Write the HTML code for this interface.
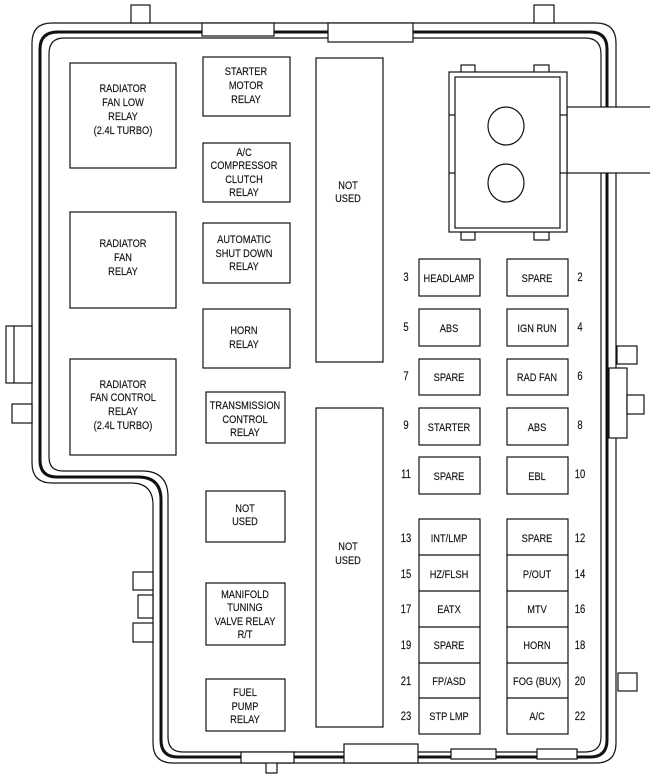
<!DOCTYPE html>
<html><head><meta charset="utf-8"><style>
html,body{margin:0;padding:0;background:#fff;}
svg{display:block;}
text{font-family:"Liberation Sans",Arial,sans-serif;font-size:11.3px;fill:#111;text-anchor:middle;transform-box:fill-box;transform-origin:center;transform:scaleX(0.82);stroke:#111;stroke-width:0.15;}
.n text{font-size:11.5px;}
</style></head><body>
<svg width="650" height="776" viewBox="0 0 650 776" xmlns="http://www.w3.org/2000/svg">
<g fill="none" stroke="#111">
<path d="M52,23 H596 Q616,23 616,43 V743 Q616,763 596,763 H173 Q153,763 153,743 V505 Q153,483 131,483 H52 Q32,483 32,463 V43 Q32,23 52,23 Z" stroke-width="1.2"/>
<path d="M58,32 H590 Q607,32 607,49 V740 Q607,757 590,757 H178 Q161,757 161,740 V500 Q161,477 138,477 H57 Q40,477 40,460 V49 Q40,32 58,32 Z" stroke-width="3"/>
<path d="M64,38 H585 Q601,38 601,54 V737 Q601,752 585,752 H183 Q168,752 168,737 V497 Q168,471 142,471 H63 Q49,471 49,457 V54 Q49,38 64,38 Z" stroke-width="1.2"/>
</g>
<g fill="#fff" stroke="#111" stroke-width="1.2">
<rect x="131" y="5" width="19" height="18"/>
<rect x="534" y="5" width="20" height="18"/>
<rect x="202" y="23" width="72" height="13"/>
<rect x="328" y="23" width="85" height="19"/>
<rect x="6" y="326" width="26" height="57"/>
<line x1="14" y1="326" x2="14" y2="383"/>
<rect x="12" y="404" width="20" height="19"/>
<rect x="133" y="572" width="20" height="18"/>
<rect x="138" y="595" width="15" height="23"/>
<rect x="133" y="623" width="20" height="19"/>
<rect x="617" y="346" width="20" height="18"/>
<rect x="609" y="368" width="18" height="70"/>
<rect x="627" y="395" width="17" height="19"/>
<rect x="618" y="673" width="19" height="18"/>
<rect x="266" y="762" width="11" height="11"/>
<rect x="241" y="752" width="53" height="11"/>
<rect x="344" y="744" width="74" height="19"/>
<rect x="451" y="749" width="45" height="10"/>
<rect x="537" y="749" width="40" height="10"/>
<rect x="567" y="107" width="90" height="66"/>
<rect x="461" y="65" width="14" height="8"/>
<rect x="534" y="65" width="15" height="8"/>
<rect x="461" y="232" width="14" height="8"/>
<rect x="534" y="232" width="15" height="8"/>
<rect x="449" y="72" width="118" height="160"/>
<rect x="455" y="77" width="105" height="151"/>
<line x1="449" y1="115" x2="455" y2="115"/><line x1="449" y1="173" x2="455" y2="173"/>
<line x1="560" y1="115" x2="567" y2="115"/><line x1="560" y1="173" x2="567" y2="173"/>
<ellipse cx="506" cy="126" rx="18" ry="19"/>
<ellipse cx="506" cy="183" rx="18" ry="19"/>
<rect x="70" y="63" width="106" height="105"/>
<rect x="203" y="57" width="87" height="59"/>
<rect x="203" y="143" width="87" height="59"/>
<rect x="203" y="223" width="87" height="60"/>
<rect x="70" y="212" width="106" height="96"/>
<rect x="203" y="309" width="87" height="59"/>
<rect x="70" y="359" width="106" height="96"/>
<rect x="206" y="392" width="79" height="51"/>
<rect x="206" y="491" width="79" height="51"/>
<rect x="206" y="583" width="79" height="62"/>
<rect x="206" y="679" width="79" height="52"/>
<rect x="316" y="58" width="67" height="304"/>
<rect x="316" y="408" width="67" height="319"/>
<rect x="419" y="259" width="61" height="37"/><rect x="507" y="259" width="61" height="37"/>
<rect x="419" y="309" width="61" height="37"/><rect x="507" y="309" width="61" height="37"/>
<rect x="419" y="359" width="61" height="36"/><rect x="507" y="359" width="61" height="36"/>
<rect x="419" y="408" width="61" height="37"/><rect x="507" y="408" width="61" height="37"/>
<rect x="419" y="457" width="61" height="37"/><rect x="507" y="457" width="61" height="37"/>
<rect x="419" y="519" width="61" height="215"/><rect x="507" y="519" width="61" height="215"/>
<path d="M419,555H480M419,591H480M419,627H480M419,663H480M419,698H480M507,555H568M507,591H568M507,627H568M507,663H568M507,698H568"/>
</g>
<g>
<text x="123" y="92">RADIATOR</text><text x="123" y="106">FAN LOW</text><text x="123" y="120">RELAY</text><text x="123" y="134">(2.4L TURBO)</text>
<text x="246" y="75">STARTER</text><text x="246" y="89">MOTOR</text><text x="246" y="103">RELAY</text>
<text x="244" y="156">A/C</text><text x="244" y="169">COMPRESSOR</text><text x="244" y="183">CLUTCH</text><text x="244" y="196">RELAY</text>
<text x="244" y="243">AUTOMATIC</text><text x="244" y="257">SHUT DOWN</text><text x="244" y="270">RELAY</text>
<text x="123" y="247">RADIATOR</text><text x="123" y="261">FAN</text><text x="123" y="275">RELAY</text>
<text x="244" y="334">HORN</text><text x="244" y="348">RELAY</text>
<text x="123" y="388">RADIATOR</text><text x="123" y="401">FAN CONTROL</text><text x="123" y="415">RELAY</text><text x="123" y="429">(2.4L TURBO)</text>
<text x="245" y="409">TRANSMISSION</text><text x="245" y="423">CONTROL</text><text x="245" y="436">RELAY</text>
<text x="245" y="512">NOT</text><text x="245" y="525">USED</text>
<text x="245" y="598">MANIFOLD</text><text x="245" y="611">TUNING</text><text x="245" y="625">VALVE RELAY</text><text x="245" y="638">R/T</text>
<text x="245" y="696">FUEL</text><text x="245" y="710">PUMP</text><text x="245" y="723">RELAY</text>
<text x="348" y="189">NOT</text><text x="348" y="202">USED</text>
<text x="348" y="550">NOT</text><text x="348" y="564">USED</text>
<text x="449" y="282">HEADLAMP</text><text x="537" y="282">SPARE</text>
<text x="449" y="332">ABS</text><text x="537" y="332">IGN RUN</text>
<text x="449" y="381">SPARE</text><text x="537" y="381">RAD FAN</text>
<text x="449" y="431">STARTER</text><text x="537" y="431">ABS</text>
<text x="449" y="480">SPARE</text><text x="537" y="480">EBL</text>
<text x="449" y="542">INT/LMP</text><text x="537" y="542">SPARE</text>
<text x="449" y="578">HZ/FLSH</text><text x="537" y="578">P/OUT</text>
<text x="449" y="613">EATX</text><text x="537" y="613">MTV</text>
<text x="449" y="649">SPARE</text><text x="537" y="649">HORN</text>
<text x="449" y="685">FP/ASD</text><text x="537" y="685">FOG (BUX)</text>
<text x="449" y="720">STP LMP</text><text x="537" y="720">A/C</text>
<g class="n">
<text x="406" y="281">3</text><text x="580" y="281">2</text>
<text x="406" y="331">5</text><text x="580" y="331">4</text>
<text x="406" y="380">7</text><text x="580" y="380">6</text>
<text x="406" y="429">9</text><text x="580" y="429">8</text>
<text x="406" y="478">11</text><text x="580" y="478">10</text>
<text x="406" y="542">13</text><text x="580" y="542">12</text>
<text x="406" y="578">15</text><text x="580" y="578">14</text>
<text x="406" y="613">17</text><text x="580" y="613">16</text>
<text x="406" y="649">19</text><text x="580" y="649">18</text>
<text x="406" y="685">21</text><text x="580" y="685">20</text>
<text x="406" y="720">23</text><text x="580" y="720">22</text>
</g>
</g>
</svg>
</body></html>
